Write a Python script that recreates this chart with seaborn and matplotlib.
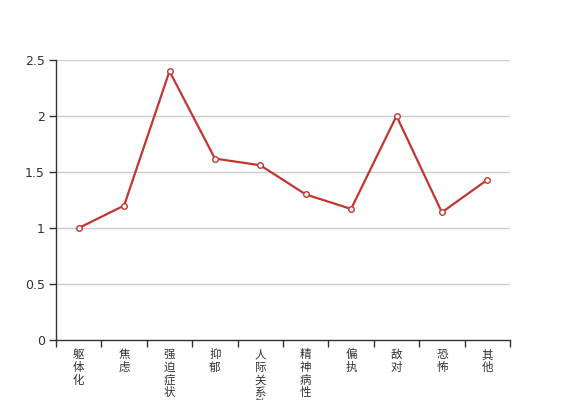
import matplotlib
matplotlib.use("Agg")
import matplotlib.pyplot as plt
import seaborn as sns
import pandas as pd

categories = ["躯体化", "焦虑", "强迫症状", "抑郁", "人际关系敏感", "精神病性", "偏执", "敌对", "恐怖", "其他"]
values = [1.0, 1.2, 2.4, 1.62, 1.56, 1.3, 1.17, 2.0, 1.14, 1.43]
yticks = [0, 0.5, 1, 1.5, 2, 2.5]

sns.set_theme(style="white")
plt.rcParams['font.family'] = ['Noto Sans CJK SC', 'DejaVu Sans']

df = pd.DataFrame({"cat": categories, "val": values, "pos": range(len(categories))})

fig = plt.figure(figsize=(5.67, 4.0), dpi=100)
ax = fig.add_axes([56/567, 1 - 340/400, (510 - 56)/567, 280/400])

for y in yticks[1:]:
    ax.axhline(y, color="#cccccc", lw=1, zorder=0)

sns.lineplot(data=df, x="pos", y="val", ax=ax, color="#c23531", lw=1.6,
             marker="o", markersize=4, markerfacecolor="white",
             markeredgecolor="#c23531", markeredgewidth=1, zorder=3)

ax.set_xlim(-0.5, len(categories) - 0.5)
ax.set_ylim(0, 2.5)
ax.set_yticks(yticks)
ax.set_yticklabels(["0", "0.5", "1", "1.5", "2", "2.5"], fontsize=9, color="#333333",
                   family=['DejaVu Sans'])
ax.set_xticks([i - 0.5 for i in range(len(categories) + 1)])
ax.set_xticklabels([])
ax.set_xticks(range(len(categories)), minor=True)
ax.set_xticklabels(["\n".join(c) for c in categories], minor=True, fontsize=8.3,
                   color="#333333", linespacing=0.97, va="top")
ax.tick_params(axis="x", which="minor", length=0, pad=6)
ax.tick_params(axis="x", which="major", length=5, width=1, color="#333333", direction="out", bottom=True)
ax.tick_params(axis="y", length=5, width=1, color="#333333", direction="out", left=True, pad=3)
ax.set_xlabel("")
ax.set_ylabel("")

for s in ["top", "right"]:
    ax.spines[s].set_visible(False)
for s in ["left", "bottom"]:
    ax.spines[s].set_color("#333333")
    ax.spines[s].set_linewidth(1)

fig.savefig("out.png", dpi=100)
